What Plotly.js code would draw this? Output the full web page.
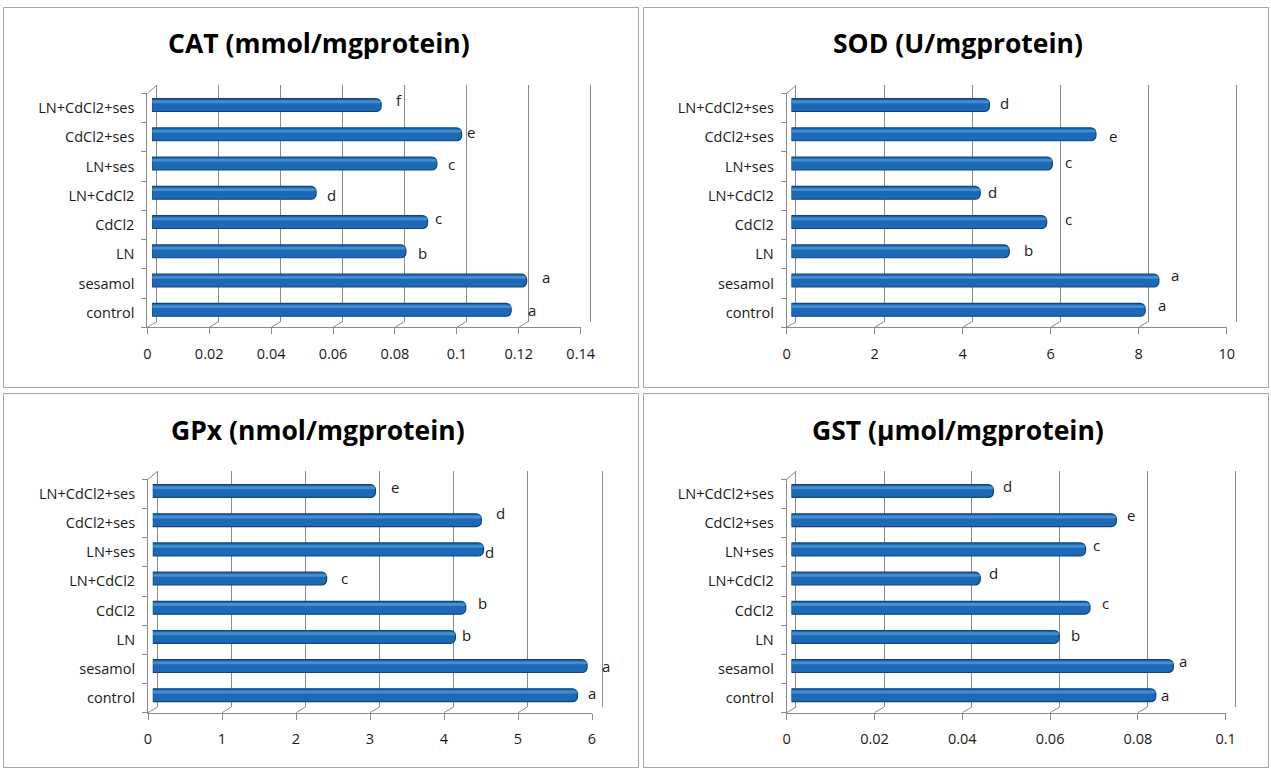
<!DOCTYPE html>
<html>
<head>
<meta charset="utf-8">
<script src="https://cdn.plot.ly/plotly-3.0.1.min.js"></script>
<style>
  html, body { margin: 0; padding: 0; background: #ffffff; }
  #chart { width: 1271px; height: 769px; }
</style>
</head>
<body>
<div id="chart"></div>
<script>
// Treatment groups, listed bottom to top
const groups = ['control', 'sesamol', 'LN', 'CdCl2', 'LN+CdCl2', 'LN+ses', 'CdCl2+ses', 'LN+CdCl2+ses'];

// Enzyme activities per group
const catValues = [0.116, 0.121, 0.082, 0.089, 0.053, 0.092, 0.100, 0.074];
const sodValues = [8.04, 8.35, 4.95, 5.80, 4.29, 5.93, 6.92, 4.50];
const gpxValues = [5.74, 5.87, 4.09, 4.23, 2.35, 4.47, 4.44, 3.01];
const gstValues = [0.083, 0.087, 0.061, 0.068, 0.043, 0.067, 0.074, 0.046];

// Significance letters per group
const catLetters = ['a', 'a', 'b', 'c', 'd', 'c', 'e', 'f'];
const sodLetters = ['a', 'a', 'b', 'c', 'd', 'c', 'e', 'd'];
const gpxLetters = ['a', 'a', 'b', 'b', 'c', 'd', 'd', 'e'];
const gstLetters = ['a', 'a', 'b', 'c', 'd', 'c', 'e', 'd'];

const titles = ['CAT (mmol/mgprotein)', 'SOD (U/mgprotein)', 'GPx (nmol/mgprotein)', 'GST (μmol/mgprotein)'];

// Value-axis extents and tick steps
const axisMax = [0.14, 10, 6, 0.1];
const axisStep = [0.02, 2, 1, 0.02];

// Letter placement nudges (px): right of the bar end, and downward from the bar centre
const catDx = [21, 19, 17, 11, 15, 15, 9, 18],   catDy = [0, -3.5, 2, -4, 2, 0, -2, -5];
const sodDx = [17, 16, 19, 22, 12, 16, 17, 15],  sodDy = [-5, -5.5, -1, -3, -1, -1.6, 2, -2];
const gpxDx = [14, 19, 11, 17, 17.5, 6, 19, 19.5], gpxDy = [-2, 0, -2, -5, -1, 3, -7, -4];
const gstDx = [9, 10, 16, 16, 13, 11, 15, 14],   gstDy = [-0.5, -4.6, -2, -4.6, -6, -4.5, -5.3, -5];

const W = 1271, H = 769;
const px = v => v / W;
const py = v => 1 - v / H;

const GRAY = '#8a8a8a';
const FONT = '"Open Sans", Lato, sans-serif';
const TEXT = '#1a1a1a';

// 3-D depth of the plot box: back wall sits right and up of the front edge
const DEPTH_X = 9.5, DEPTH_Y = 5.7, DEPTH_TOP = 8;

// Panel boxes in pixels: frame [l,t,r,b], front plot edge [l,t,r,b], title centre
const panels = [
  { frame: [3.5, 7.5, 638.5, 387.5],    front: [147.3, 93.3, 580.7, 327.3], title: [319, 43] },
  { frame: [643.5, 7.5, 1268.5, 387.5], front: [786.7, 93.3, 1226.7, 327.3], title: [958, 43] },
  { frame: [3.5, 393.5, 638.5, 767.5],  front: [148, 479.3, 592, 712.7],     title: [318, 430] },
  { frame: [643.5, 393.5, 1268.5, 767.5], front: [786.7, 479.3, 1225.7, 712.7], title: [958, 430] }
];

const series = [
  { values: catValues, letters: catLetters, dx: catDx, dy: catDy },
  { values: sodValues, letters: sodLetters, dx: sodDx, dy: sodDy },
  { values: gpxValues, letters: gpxLetters, dx: gpxDx, dy: gpxDy },
  { values: gstValues, letters: gstLetters, dx: gstDx, dy: gstDy }
];

// Traces are grouped by depth so the back wall is painted first, then bars, then front edges
const backTraces = [], barTraces = [], frontTraces = [];
const layout = {
  width: W, height: H,
  margin: { l: 0, r: 0, t: 0, b: 0 },
  paper_bgcolor: '#ffffff', plot_bgcolor: 'rgba(0,0,0,0)',
  showlegend: false,
  barmode: 'overlay',
  shapes: [], annotations: []
};
const key = n => (n === 1 ? '' : n);

panels.forEach((p, i) => {
  const s = series[i];
  const f = p.front;
  const nB = i + 1, nM = i + 5, nF = i + 9;          // back, middle (bars), front axes

  // Back wall with the vertical gridlines
  layout['xaxis' + key(nB)] = {
    domain: [px(f[0] + DEPTH_X), px(f[2] + DEPTH_X)], anchor: 'y' + key(nB),
    range: [0, axisMax[i]], tick0: 0, dtick: axisStep[i],
    showgrid: true, gridcolor: GRAY, gridwidth: 1,
    zeroline: false, showline: false, showticklabels: false, ticks: '',
    fixedrange: true
  };
  layout['yaxis' + key(nB)] = {
    domain: [py(f[3] - DEPTH_Y), py(f[1] - DEPTH_TOP)], anchor: 'x' + key(nB),
    type: 'category', categoryorder: 'array', categoryarray: groups,
    range: [-0.5, groups.length - 0.5],
    showgrid: false, zeroline: false, showticklabels: false, ticks: '',
    showline: true, mirror: true, linecolor: GRAY, linewidth: 1, fixedrange: true
  };
  backTraces.push({
    type: 'scatter', mode: 'markers', x: s.values, y: groups,
    xaxis: 'x' + key(nB), yaxis: 'y' + key(nB),
    marker: { opacity: 0 }, hoverinfo: 'skip'
  });

  // Middle axes carry the bars, halfway into the box depth
  layout['xaxis' + nM] = {
    domain: [px(f[0] + DEPTH_X / 2), px(f[2] + DEPTH_X / 2)], anchor: 'y' + nM,
    range: [0, axisMax[i]], visible: false, fixedrange: true
  };
  layout['yaxis' + nM] = {
    domain: [py(f[3] - DEPTH_Y / 2), py(f[1] - DEPTH_Y / 2)], anchor: 'x' + nM,
    type: 'category', categoryorder: 'array', categoryarray: groups,
    range: [-0.5, groups.length - 0.5], visible: false, fixedrange: true
  };

  // Bars with a rounded end and a soft highlight stripe along the top
  barTraces.push({
    type: 'bar', orientation: 'h', x: s.values, y: groups,
    xaxis: 'x' + nM, yaxis: 'y' + nM,
    width: 0.44,
    marker: { color: '#1c6ab6', line: { color: '#0f457c', width: 1.2 }, cornerradius: 5 },
    hoverinfo: 'skip'
  });
  barTraces.push({
    type: 'bar', orientation: 'h', x: s.values, y: groups,
    xaxis: 'x' + nM, yaxis: 'y' + nM,
    width: 0.1, offset: 0.06,
    marker: { color: 'rgba(110,175,235,0.5)', line: { width: 0 }, cornerradius: 2 },
    hoverinfo: 'skip'
  });

  // Front axes: floor edge with value ticks, left edge with group labels
  layout['xaxis' + nF] = {
    domain: [px(f[0]), px(f[2])], anchor: 'y' + nF,
    range: [0, axisMax[i]], tick0: 0, dtick: axisStep[i],
    showline: true, linecolor: GRAY, linewidth: 1,
    ticks: 'outside', ticklen: 6, tickcolor: GRAY,
    showgrid: false, zeroline: false, fixedrange: true,
    ticklabelstandoff: 7,
    tickfont: { family: FONT, size: 14.5, color: TEXT }
  };
  layout['yaxis' + nF] = {
    domain: [py(f[3]), py(f[1])], anchor: 'x' + nF,
    type: 'category', categoryorder: 'array', categoryarray: groups,
    range: [-0.5, groups.length - 0.5],
    showline: true, linecolor: GRAY, linewidth: 1,
    ticks: 'outside', tickson: 'boundaries', ticklen: 5, tickcolor: GRAY,
    showgrid: false, zeroline: false, fixedrange: true,
    ticklabelstandoff: 9,
    tickfont: { family: FONT, size: 14.5, color: TEXT }
  };
  frontTraces.push({
    type: 'scatter', mode: 'markers', x: s.values, y: groups,
    xaxis: 'x' + nF, yaxis: 'y' + nF,
    marker: { opacity: 0 }, hoverinfo: 'skip'
  });

  // Floor diagonals joining each value tick to its gridline on the back wall
  const nTicks = Math.round(axisMax[i] / axisStep[i]);
  for (let k = 0; k <= nTicks; k++) {
    layout.shapes.push({
      type: 'line', xref: 'x' + nF, yref: 'paper', layer: 'below',
      xsizemode: 'pixel', xanchor: k * axisStep[i], x0: 0, x1: DEPTH_X,
      ysizemode: 'pixel', yanchor: py(f[3]), y0: 0, y1: DEPTH_Y,
      line: { color: GRAY, width: 1 }
    });
  }
  // Top edge of the left wall
  layout.shapes.push({
    type: 'line', xref: 'x' + nF, yref: 'paper', layer: 'below',
    xsizemode: 'pixel', xanchor: 0, x0: 0, x1: DEPTH_X,
    ysizemode: 'pixel', yanchor: py(f[1]), y0: 0, y1: DEPTH_TOP,
    line: { color: GRAY, width: 1 }
  });

  // Panel frame
  layout.shapes.push({
    type: 'rect', xref: 'paper', yref: 'paper',
    x0: px(p.frame[0]), x1: px(p.frame[2]), y0: py(p.frame[3]), y1: py(p.frame[1]),
    line: { color: '#a6a6a6', width: 1 }, fillcolor: 'rgba(0,0,0,0)', layer: 'below'
  });

  // Panel title
  layout.annotations.push({
    xref: 'paper', yref: 'paper', x: px(p.title[0]), y: py(p.title[1]),
    xanchor: 'center', yanchor: 'middle', showarrow: false,
    text: '<b>' + titles[i] + '</b>',
    font: { family: FONT, size: 26.5, color: '#000000' }
  });

  // Significance letters beside each bar
  s.values.forEach((v, j) => {
    layout.annotations.push({
      xref: 'x' + nM, yref: 'y' + nM, x: v, y: groups[j],
      xanchor: 'center', yanchor: 'middle', showarrow: false,
      xshift: s.dx[j], yshift: -s.dy[j],
      text: s.letters[j],
      font: { family: FONT, size: 15, color: TEXT }
    });
  });
});

const data = backTraces.concat(barTraces, frontTraces);
Plotly.newPlot('chart', data, layout, { staticPlot: true, displayModeBar: false });
</script>
</body>
</html>
